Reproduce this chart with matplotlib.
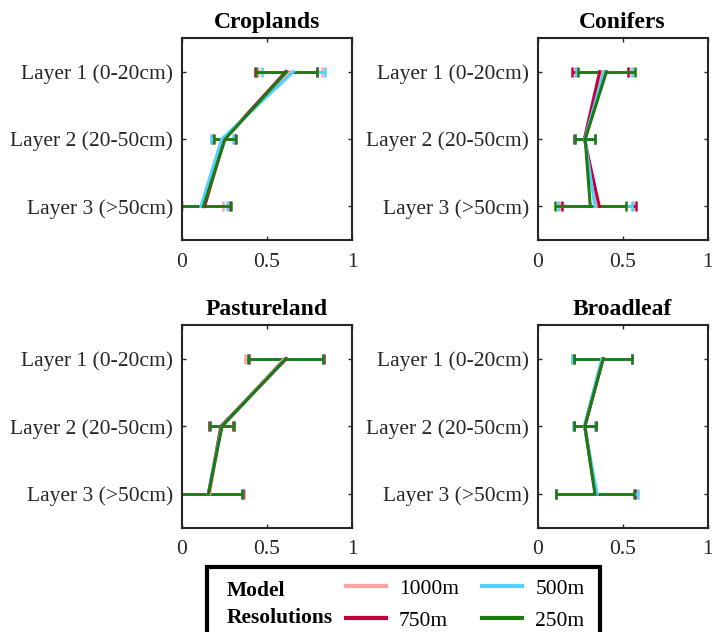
import matplotlib.pyplot as plt
from matplotlib.lines import Line2D
from matplotlib.patches import Rectangle

plt.rcParams['font.family'] = ['Liberation Serif', 'DejaVu Serif']

# layers from top to bottom
layers = ["Layer 1 (0-20cm)", "Layer 2 (20-50cm)", "Layer 3 (>50cm)"]
layer_pos = [1, 2, 3]
resolutions = ["1000m", "750m", "500m", "250m"]
colors = ["#ffa3a3", "#c4003c", "#4fd2ff", "#1e7a10"]
titles = ["Croplands", "Conifers", "Pastureland", "Broadleaf"]

# mean and std per land cover, per resolution (1000, 750, 500, 250), per layer
croplands_mean = [[0.635, 0.245, 0.120], [0.610, 0.250, 0.135], [0.655, 0.235, 0.113], [0.615, 0.255, 0.128]]
croplands_std = [[0.185, 0.070, 0.120], [0.183, 0.065, 0.150], [0.185, 0.065, 0.150], [0.180, 0.065, 0.160]]

conifers_mean = [[0.380, 0.278, 0.345], [0.365, 0.275, 0.363], [0.390, 0.278, 0.337], [0.405, 0.280, 0.310]]
conifers_std = [[0.160, 0.058, 0.215], [0.165, 0.060, 0.218], [0.165, 0.058, 0.217], [0.167, 0.060, 0.207]]

pasture_mean = [[0.600, 0.232, 0.165], [0.615, 0.230, 0.158], [0.610, 0.235, 0.155], [0.610, 0.237, 0.157]]
pasture_std = [[0.230, 0.070, 0.200], [0.220, 0.070, 0.200], [0.220, 0.070, 0.196], [0.220, 0.070, 0.196]]

broadleaf_mean = [[0.380, 0.275, 0.345], [0.385, 0.278, 0.340], [0.378, 0.275, 0.350], [0.386, 0.278, 0.337]]
broadleaf_std = [[0.175, 0.063, 0.235], [0.170, 0.065, 0.230], [0.178, 0.065, 0.240], [0.171, 0.065, 0.230]]

all_means = [croplands_mean, conifers_mean, pasture_mean, broadleaf_mean]
all_stds = [croplands_std, conifers_std, pasture_std, broadleaf_std]

fig = plt.figure(figsize=(7.12, 6.32), dpi=100)
positions = [[0.255, 0.620, 0.240, 0.320], [0.755, 0.620, 0.239, 0.320],
             [0.255, 0.165, 0.240, 0.321], [0.755, 0.165, 0.239, 0.321]]

for k in range(4):
    ax = fig.add_axes(positions[k])
    for r in range(4):
        ax.errorbar(all_means[k][r], layer_pos, xerr=all_stds[k][r], color=colors[r],
                    lw=2.2, elinewidth=2, capsize=3.5, capthick=1.8)
    ax.set_xlim(0, 1)
    ax.set_ylim(3.5, 0.5)
    ax.set_xticks([0, 0.5, 1])
    ax.set_xticklabels(["0", "0.5", "1"])
    ax.set_yticks(layer_pos)
    ax.set_yticklabels(layers)
    ax.tick_params(direction='in', top=True, right=True, length=3, width=1,
                   labelsize=15.5, colors='#262626')
    ax.tick_params(axis='y', pad=6)
    ax.tick_params(axis='x', pad=9)
    for s in ax.spines.values():
        s.set_linewidth(1.5)
        s.set_color('#262626')
    ax.set_title(titles[k], fontsize=17, fontweight='bold', pad=7)

# legend box
fig.patches.append(Rectangle((0.291, -0.1), 0.552, 0.2028, transform=fig.transFigure,
                             fill=False, lw=3, ec='black', zorder=5))
fig.text(0.318, 0.043, "Model\nResolutions", fontsize=15.5, fontweight='bold',
         va='center', ha='left', linespacing=1.45)
handles = [Line2D([], [], color=c, lw=3) for c in colors]
fig.legend(handles, resolutions, ncol=2, loc='center left', bbox_to_anchor=(0.486, 0.043),
           frameon=False, fontsize=15.5, handlelength=1.85, handletextpad=0.6,
           columnspacing=1.1, labelspacing=0.55, borderpad=0, borderaxespad=0)

fig.savefig("out.png", dpi=100)
